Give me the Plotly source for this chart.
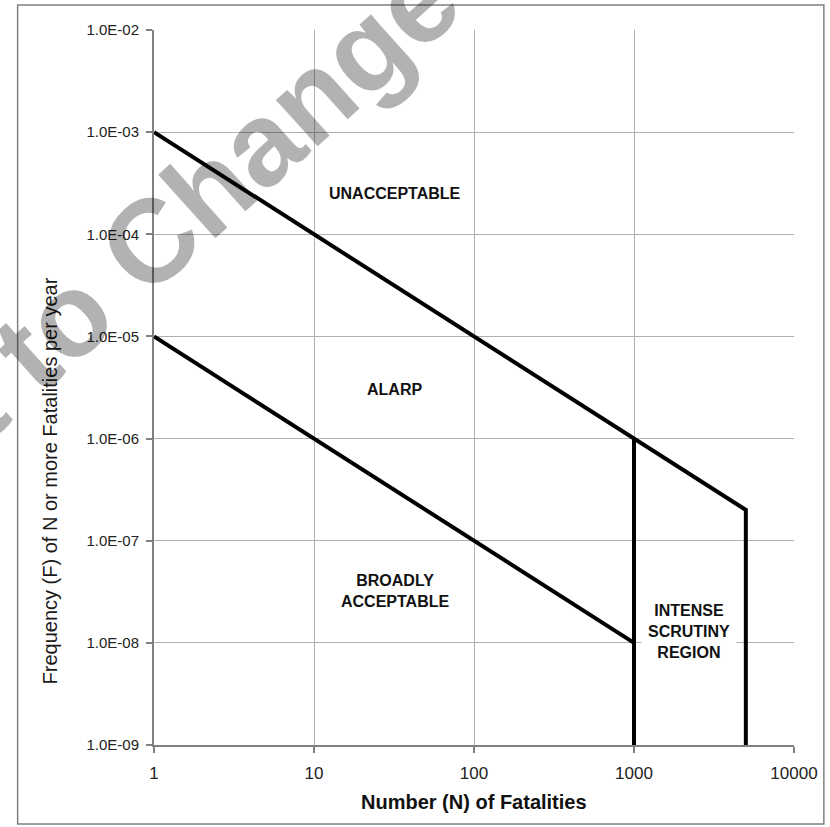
import math
import plotly.graph_objects as go

# ---- data ----
N_upper = [1, 1000, 5000, 5000]
F_upper = [1e-3, 1e-6, 2e-7, 1e-9]
N_lower = [1, 1000]
F_lower = [1e-5, 1e-8]
N_scrutiny = [1000, 1000]
F_scrutiny = [1e-6, 1e-9]

x_tickvals = [1, 10, 100, 1000, 10000]
x_ticktext = ["1", "10", "100", "1000", "10000"]
y_tickvals = [1e-9, 1e-8, 1e-7, 1e-6, 1e-5, 1e-4, 1e-3, 1e-2]
y_ticktext = ["1.0E-09", "1.0E-08", "1.0E-07", "1.0E-06", "1.0E-05", "1.0E-04", "1.0E-03", "1.0E-02"]

region_labels = ["UNACCEPTABLE", "ALARP", "BROADLY<br>ACCEPTABLE", "INTENSE<br>SCRUTINY<br>REGION"]
region_N = [32, 32, 32, 2200]
region_F = [2.5e-4, 3.0e-6, 3.2e-8, 1.3e-8]

x_title = "Number (N) of Fatalities"
y_title = "Frequency (F) of N or more Fatalities per year"
watermark = "Subject to Change"

FONT = "Liberation Sans, Arial, sans-serif"
W, H = 830, 827
L, R, T, B = 154, 33, 30, 82
pw, ph = W - L - R, H - T - B


def px_to_paper(px, py):
    return (px - L) / pw, (H - B - py) / ph


fig = go.Figure()
line_style = dict(color="black", width=4)
fig.add_trace(go.Scatter(x=N_upper, y=F_upper, mode="lines", line=line_style, hoverinfo="skip"))
fig.add_trace(go.Scatter(x=N_lower, y=F_lower, mode="lines", line=line_style, hoverinfo="skip"))
fig.add_trace(go.Scatter(x=N_scrutiny, y=F_scrutiny, mode="lines", line=line_style, hoverinfo="skip"))

annotations = []
for i, (txt, xn, yf) in enumerate(zip(region_labels, region_N, region_F)):
    a = dict(x=math.log10(xn), y=math.log10(yf), xref="x", yref="y", text=txt, showarrow=False,
             font=dict(family=FONT, size=16, color="#111", weight="bold"),
             xanchor="center", yanchor="middle", align="center")
    if i == 3:
        a.update(bgcolor="white", borderpad=6)
    annotations.append(a)

xx, yy = px_to_paper(50, 481)
annotations.append(dict(x=xx, y=yy, xref="paper", yref="paper", text=y_title, showarrow=False,
                        textangle=-90, font=dict(family=FONT, size=20, color="#1a1a1a"),
                        xanchor="center", yanchor="middle"))
xx, yy = px_to_paper(476, 802)
annotations.append(dict(x=xx, y=yy, xref="paper", yref="paper", text=x_title, showarrow=False,
                        font=dict(family=FONT, size=20, color="#111", weight="bold"),
                        xanchor="center", yanchor="middle"))
xx, yy = px_to_paper(55, 327)
annotations.append(dict(x=xx, y=yy, xref="paper", yref="paper", text=watermark, showarrow=False,
                        textangle=-42, font=dict(family=FONT, size=118, color="rgba(0,0,0,0.3)", weight="bold"),
                        xanchor="center", yanchor="middle"))

x0, y1 = px_to_paper(17, 5)
x1, y0 = px_to_paper(827, 824)
shapes = [dict(type="rect", xref="paper", yref="paper", x0=x0, x1=x1, y0=y0, y1=y1,
               line=dict(color="#808080", width=1.5), fillcolor="rgba(0,0,0,0)", layer="below")]

fig.update_layout(
    width=W, height=H, autosize=False,
    margin=dict(l=L, r=R, t=T, b=B),
    paper_bgcolor="white", plot_bgcolor="white",
    showlegend=False,
    annotations=annotations,
    shapes=shapes,
    xaxis=dict(type="log", range=[0, 4], tickvals=x_tickvals, ticktext=x_ticktext,
               showgrid=True, gridcolor="#b0b0b0", gridwidth=1,
               showline=True, linecolor="#808080", linewidth=2,
               ticks="outside", ticklen=6, tickcolor="#808080", tickwidth=1.5,
               tickfont=dict(family=FONT, size=17, color="#222"),
               ticklabelstandoff=6, zeroline=False, mirror=False),
    yaxis=dict(type="log", range=[-9, -2], tickvals=y_tickvals, ticktext=y_ticktext,
               showgrid=True, gridcolor="#b0b0b0", gridwidth=1,
               showline=True, linecolor="#808080", linewidth=2,
               ticks="outside", ticklen=6, tickcolor="#808080", tickwidth=1.5,
               tickfont=dict(family=FONT, size=15, color="#222"),
               ticklabelstandoff=4, zeroline=False, mirror=False),
)

fig.write_html("out.html", config={"displayModeBar": False},
               post_script="document.body.style.margin='0';document.body.style.padding='0';"
                           "document.documentElement.style.overflow='hidden';")
